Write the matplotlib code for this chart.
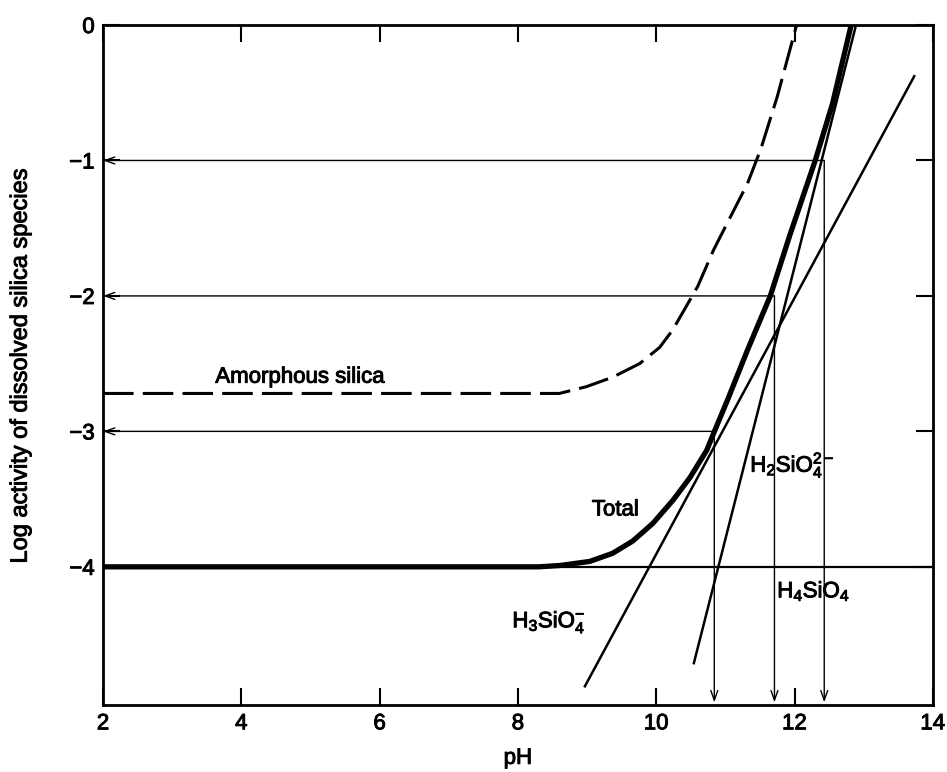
import matplotlib
matplotlib.use("Agg")
import matplotlib.pyplot as plt
import matplotlib.patheffects as pe

plt.rcParams['font.family'] = ['Liberation Sans', 'DejaVu Sans']
plt.rcParams['mathtext.fontset'] = 'custom'
plt.rcParams['mathtext.rm'] = 'Liberation Sans'
plt.rcParams['mathtext.it'] = 'Liberation Sans:italic'
plt.rcParams['mathtext.bf'] = 'Liberation Sans:bold'

# ---- data ----
h4sio4_ph = [2.0, 14.0]
h4sio4_log = [-4.0, -4.0]

h3sio4_ph = [8.96, 13.74]
h3sio4_log = [-4.89, -0.37]

h2sio4_ph = [10.54, 12.89]
h2sio4_log = [-4.72, 0.0]

total_ph = [2.0, 8.3, 8.61, 9.04, 9.37, 9.66, 9.95, 10.24, 10.49, 10.73, 10.85,
            11.03, 11.32, 11.65, 11.94, 12.30, 12.55, 12.82]
total_log = [-4.0, -4.0, -3.99, -3.96, -3.90, -3.81, -3.68, -3.51, -3.34, -3.14, -2.99,
             -2.77, -2.40, -2.0, -1.54, -1.0, -0.58, 0.0]

amorph_ph = [2.0, 7.16, 8.60, 8.99, 9.37, 9.76, 10.05, 10.24, 10.6, 10.83,
             11.32, 11.51, 11.75, 12.03]
amorph_log = [-2.72, -2.72, -2.72, -2.67, -2.60, -2.50, -2.38, -2.25, -1.93, -1.66,
              -1.17, -0.92, -0.53, 0.0]

arrow_ph = [10.84, 11.71, 12.43]
arrow_level = [-3.0, -2.0, -1.0]

x_ticks = [2, 4, 6, 8, 10, 12, 14]
y_ticks = [0, -1, -2, -3, -4]
y_tick_labels = ['0', '\u22121', '\u22122', '\u22123', '\u22124']

heavy = [pe.withStroke(linewidth=0.7, foreground='black')]

fig = plt.figure(figsize=(9.47, 7.72), dpi=100)
ax = fig.add_axes([0.1088, 0.0868, 0.8762, 0.8808])

ax.plot(h4sio4_ph, h4sio4_log, color='black', lw=1.6)
ax.plot(h3sio4_ph, h3sio4_log, color='black', lw=1.8, solid_capstyle='butt')
ax.plot(h2sio4_ph, h2sio4_log, color='black', lw=1.8, solid_capstyle='butt')
ax.plot(total_ph, total_log, color='black', lw=3.8, solid_joinstyle='round')
ax.plot(amorph_ph, amorph_log, color='black', lw=2.2, dashes=(10, 3))

for px, lvl in zip(arrow_ph, arrow_level):
    ax.annotate('', xy=(2.0, lvl), xytext=(px, lvl),
                arrowprops=dict(arrowstyle='->,head_length=0.7,head_width=0.25',
                                lw=1.0, color='black', shrinkA=0, shrinkB=0))
    ax.annotate('', xy=(px, -5.0), xytext=(px, lvl),
                arrowprops=dict(arrowstyle='->,head_length=0.7,head_width=0.25',
                                lw=1.0, color='black', shrinkA=0, shrinkB=0))

fs = 16
ax.text(4.85, -2.6, 'Amorphous silica', fontsize=fs, ha='center', va='center',
        path_effects=heavy)
ax.text(9.41, -3.58, 'Total', fontsize=fs, ha='center', va='center',
        path_effects=heavy)
ax.text(11.36, -3.25, r'H$_2$SiO$_4^{2-}$', fontsize=fs, ha='left', va='center',
        path_effects=heavy)
ax.text(11.75, -4.18, r'H$_4$SiO$_4$', fontsize=fs, ha='left', va='center',
        path_effects=heavy)
ax.text(7.92, -4.41, r'H$_3$SiO$_4^{-}$', fontsize=fs, ha='left', va='center',
        path_effects=heavy)

ax.set_xlim(2, 14)
ax.set_ylim(-5.02, 0)
ax.set_xticks(x_ticks)
ax.set_yticks(y_ticks)
ax.set_yticklabels(y_tick_labels)
ax.tick_params(direction='in', length=12, width=1.5, top=True, right=True,
               labelsize=16, pad=6)
for lab in ax.get_xticklabels() + ax.get_yticklabels():
    lab.set_path_effects(heavy)
for s in ax.spines.values():
    s.set_linewidth(2.0)

ax.set_xlabel('pH', fontsize=16, path_effects=heavy)
ax.set_ylabel('Log activity of dissolved silica species', fontsize=17,
              path_effects=heavy)
ax.xaxis.set_label_coords(0.5, -0.063)
ax.yaxis.set_label_coords(-0.086, 0.5)

fig.savefig('out.png', dpi=100)
